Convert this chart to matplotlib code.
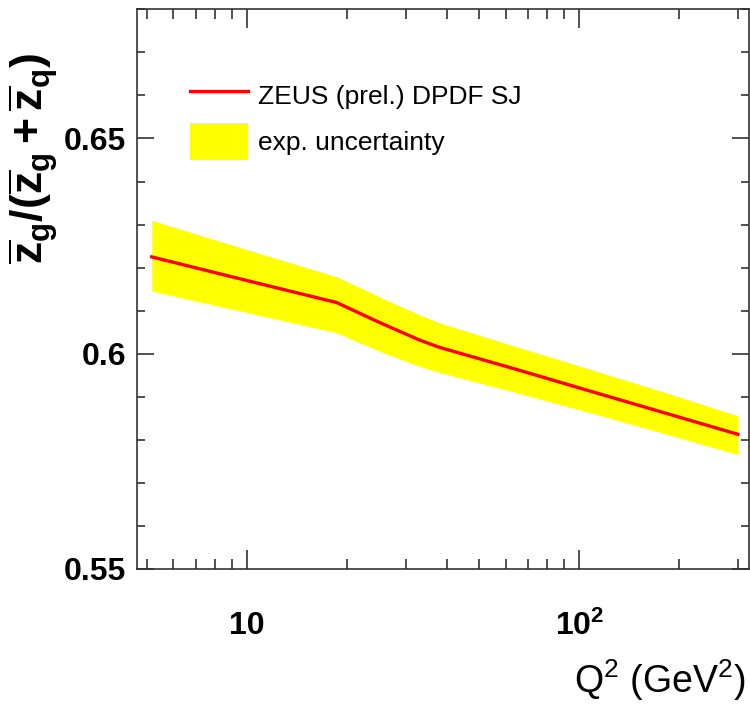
import matplotlib
matplotlib.use("Agg")
import matplotlib.pyplot as plt
from matplotlib.ticker import FixedLocator, MultipleLocator, NullFormatter, FixedFormatter

# ---- data ----
q2 = [5.16, 10, 18.6, 21, 23.4, 26, 28.8, 33, 37.9, 63.8, 107, 180, 300]
ratio = [0.6225, 0.6170, 0.6119, 0.6100, 0.6083, 0.6067, 0.6052, 0.6032, 0.6015,
         0.5965, 0.5914, 0.5863, 0.5813]
ratio_hi = [0.6310, 0.6242, 0.6179, 0.6160, 0.6143, 0.6126, 0.6111, 0.6091, 0.6072,
            0.6018, 0.5965, 0.5911, 0.5856]
ratio_lo = [0.6146, 0.6096, 0.6049, 0.6031, 0.6016, 0.6001, 0.5988, 0.5971, 0.5957,
            0.5911, 0.5864, 0.5815, 0.5766]
xticks = [10, 100]
xticklabels = ["10", r"10$^{\mathbf{2}}$"]
yticks = [0.55, 0.6, 0.65]
yticklabels = ["0.55", "0.6", "0.65"]

FAM = ["Liberation Sans", "DejaVu Sans"]
plt.rcParams["font.family"] = FAM
plt.rcParams["mathtext.fontset"] = "custom"
plt.rcParams["mathtext.rm"] = "Liberation Sans"
plt.rcParams["mathtext.it"] = "Liberation Sans:italic"
plt.rcParams["mathtext.bf"] = "Liberation Sans:bold"

fig = plt.figure(figsize=(7.5, 7.04), dpi=100)
ax = fig.add_axes([137/750, (704-569)/704, (749-137)/750, (569-9.3)/704])

ax.fill_between(q2, ratio_lo, ratio_hi, color="#ffff00", lw=0, label="exp. uncertainty")
ax.plot(q2, ratio, color="#ff0000", lw=2.4, label="ZEUS (prel.) DPDF SJ")

ax.set_xscale("log")
ax.set_xlim(4.66, 324)
ax.set_ylim(0.55, 0.68)

ax.xaxis.set_major_locator(FixedLocator(xticks))
ax.xaxis.set_major_formatter(FixedFormatter(xticklabels))
ax.xaxis.set_minor_formatter(NullFormatter())
ax.yaxis.set_major_locator(FixedLocator(yticks))
ax.yaxis.set_major_formatter(FixedFormatter(yticklabels))
ax.yaxis.set_minor_locator(MultipleLocator(0.01))

for s in ax.spines.values():
    s.set_linewidth(1.2)
    s.set_color("#333333")

ax.tick_params(which="both", direction="in", top=True, right=True, color="#333333", width=1.2)
ax.tick_params(axis="x", which="major", length=13.5, pad=30)
ax.tick_params(axis="x", which="minor", length=7)
ax.tick_params(axis="y", which="major", length=12, pad=8)
ax.tick_params(axis="y", which="minor", length=6)
for lab in ax.get_xticklabels() + ax.get_yticklabels():
    lab.set_fontsize(23)
    lab.set_fontweight("bold")

# legend
h, l = ax.get_legend_handles_labels()
leg = ax.legend(h[::-1], l[::-1], loc="upper left", bbox_to_anchor=(0.0866, 0.879),
                frameon=False, fontsize=19, handlelength=2.2, handleheight=1.8,
                handletextpad=0.38, labelspacing=0.33, borderpad=0, borderaxespad=0)

fig.text(33/750, 1-158/704,
         r"$\mathbf{\overline{z}_g/(\overline{z}_g + \overline{z}_q)}$",
         rotation=90, ha="center", va="center", fontsize=32)
fig.text(745/750, 1-680/704, r"Q$^2$ (GeV$^2$)", ha="right", va="center",
         fontsize=27)

fig.savefig("out.png", dpi=100)
